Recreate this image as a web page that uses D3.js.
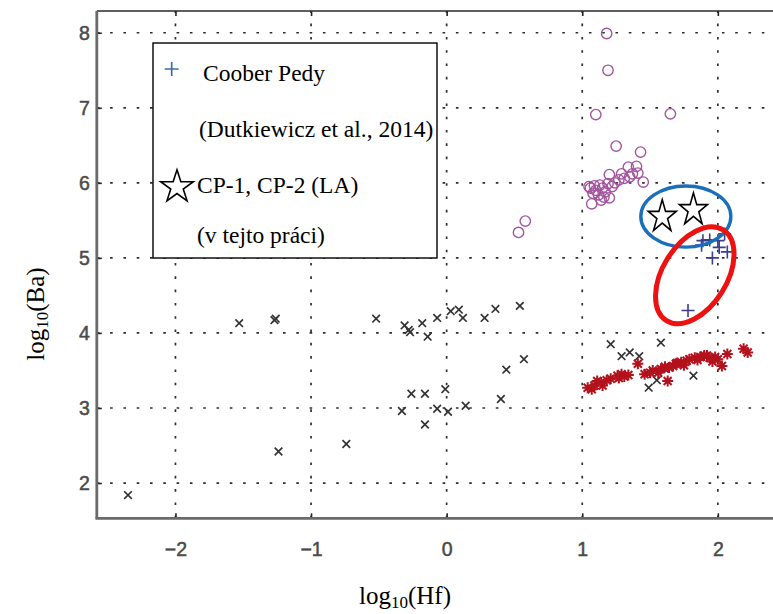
<!DOCTYPE html>
<html>
<head>
<meta charset="utf-8">
<script src="https://cdn.jsdelivr.net/npm/d3@7"></script>
<style>
  body { margin: 0; background: #fff; }
  svg { display: block; }
</style>
</head>
<body>
<svg id="chart" width="773" height="614"></svg>
<script>
// ---- data: log10(Hf) vs log10(Ba) ----
// other deposits (black x)
const otherHf = [-2.35, -1.53, -1.27, -1.26, -1.24, -0.74, -0.52, -0.31, -0.28, -0.27, -0.18, -0.14,
  -0.07, 0.03, 0.09, 0.12, 0.28, 0.36, 0.54, 0.57, 0.44, 0.40, 0.14, -0.01, 0.01, -0.07, -0.16,
  -0.26, -0.33, -0.16, 1.21, 1.58, 1.29, 1.35, 1.42, 1.48, 1.49, 1.55, 1.61, 1.82];
const otherBa = [1.84, 4.13, 4.17, 4.19, 2.42, 2.52, 4.19, 4.10, 4.04, 4.01, 4.13, 3.95,
  4.20, 4.29, 4.31, 4.20, 4.20, 4.32, 4.36, 3.65, 3.51, 3.12, 3.03, 3.25, 2.95, 2.99, 3.19,
  3.19, 2.96, 2.78, 3.85, 3.87, 3.69, 3.74, 3.69, 3.46, 3.27, 3.37, 3.52, 3.43];

// purple circles
const circHf = [1.18, 1.19, 1.10, 1.65, 1.25, 1.43, 1.34, 1.40, 1.37, 1.29, 1.20, 1.45, 1.24, 1.31,
  1.27, 1.13, 1.09, 1.06, 1.10, 1.15, 1.17, 1.22, 1.08, 1.12, 1.16, 1.20, 1.14, 1.07, 1.19, 1.05,
  1.35, 1.41, 0.58, 0.53];
const circBa = [7.99, 7.50, 6.91, 6.92, 6.49, 6.41, 6.21, 6.22, 6.12, 6.12, 6.11, 6.01, 6.00, 6.06,
  6.04, 5.97, 5.96, 5.93, 5.90, 5.93, 5.88, 5.95, 5.86, 5.84, 5.81, 5.80, 5.77, 5.72, 5.99, 5.95,
  6.08, 6.13, 5.49, 5.34];

// red asterisks
const astHf = [1.04, 1.07, 1.09, 1.11, 1.14, 1.15, 1.18, 1.21, 1.26, 1.27, 1.29, 1.31, 1.34, 1.41,
  1.46, 1.50, 1.52, 1.56, 1.58, 1.61, 1.63, 1.64, 1.67, 1.69, 1.70, 1.73, 1.75, 1.77, 1.79, 1.83,
  1.85, 1.87, 1.90, 1.92, 1.94, 1.96, 1.98, 2.00, 2.03, 2.07, 2.19, 2.22];
const astBa = [3.27, 3.25, 3.30, 3.36, 3.34, 3.30, 3.37, 3.39, 3.43, 3.40, 3.45, 3.42, 3.44, 3.59,
  3.45, 3.47, 3.50, 3.47, 3.52, 3.55, 3.36, 3.54, 3.56, 3.59, 3.60, 3.61, 3.57, 3.63, 3.65, 3.67,
  3.64, 3.68, 3.70, 3.70, 3.67, 3.62, 3.68, 3.65, 3.56, 3.72, 3.79, 3.74];

// Coober Pedy (Dutkiewicz et al., 2014)
const cpHf = [1.89, 1.94, 2.00, 2.05, 1.96, 2.07, 2.01, 1.88, 1.78];
const cpBa = [5.23, 5.24, 5.23, 5.32, 5.00, 5.08, 5.14, 5.17, 4.30];

// CP-1, CP-2 (LA)
const laHf = [1.59, 1.82];
const laBa = [5.55, 5.64];

const xTicks = [-2, -1, 0, 1, 2];
const yTicks = [2, 3, 4, 5, 6, 7, 8];

const legendLines = ["Coober Pedy", "(Dutkiewicz et al., 2014)", "CP-1, CP-2 (LA)", "(v tejto práci)"];

// ---- layout ----
const svg = d3.select("#chart");
const plot = { left: 96.8, right: 799.2, top: 11, bottom: 518.3 };

const x = d3.scaleLinear().domain([-2.58, 2.6]).range([plot.left, plot.right]);
const y = d3.scaleLinear().domain([1.53, 8.29]).range([plot.bottom, plot.top]);

svg.append("defs").append("clipPath").attr("id", "plotClip")
  .append("rect")
  .attr("x", plot.left).attr("y", plot.top)
  .attr("width", plot.right - plot.left).attr("height", plot.bottom - plot.top);

// dotted grid
const grid = svg.append("g").attr("stroke", "#2e2e2e").attr("stroke-width", 1.7)
  .attr("stroke-dasharray", "2.6,10.7").attr("fill", "none");
grid.selectAll("line.gx").data(xTicks).join("line").attr("class", "gx")
  .attr("x1", d => x(d)).attr("x2", d => x(d))
  .attr("y1", plot.bottom).attr("y2", plot.top);
grid.selectAll("line.gy").data(yTicks).join("line").attr("class", "gy")
  .attr("x1", plot.left).attr("x2", plot.right)
  .attr("y1", d => y(d)).attr("y2", d => y(d));

// axes
const tickFont = "'Liberation Sans', Arial, Helvetica, sans-serif";
const fmt = d3.format("d");

const gx = svg.append("g").attr("transform", `translate(0,${plot.bottom})`)
  .call(d3.axisBottom(x).tickValues(xTicks).tickFormat(fmt).tickSizeInner(-5).tickSizeOuter(0).tickPadding(24));
const gxTop = svg.append("g").attr("transform", `translate(0,${plot.top})`)
  .call(d3.axisTop(x).tickValues(xTicks).tickFormat("").tickSizeInner(-5).tickSizeOuter(0));
const gy = svg.append("g").attr("transform", `translate(${plot.left},0)`)
  .call(d3.axisLeft(y).tickValues(yTicks).tickFormat(fmt).tickSizeInner(-5).tickSizeOuter(0).tickPadding(7));

[gx, gxTop, gy].forEach(g => {
  g.select(".domain").remove();
  g.selectAll(".tick line").attr("stroke", "#222").attr("stroke-width", 1.6);
  g.selectAll(".tick text").attr("fill", "#4a4a4a").attr("font-size", 19.5)
    .attr("stroke", "#4a4a4a").attr("stroke-width", 0.5)
    .attr("font-family", tickFont);
});

// markers
const marks = svg.append("g").attr("clip-path", "url(#plotClip)");

marks.append("g").selectAll("path").data(d3.range(otherHf.length)).join("path")
  .attr("transform", i => `translate(${x(otherHf[i])},${y(otherBa[i])})`)
  .attr("d", "M-3.8,-3.8L3.8,3.8M-3.8,3.8L3.8,-3.8")
  .attr("stroke", "#333").attr("stroke-width", 1.7).attr("fill", "none");

marks.append("g").selectAll("circle").data(d3.range(circHf.length)).join("circle")
  .attr("cx", i => x(circHf[i])).attr("cy", i => y(circBa[i])).attr("r", 5.2)
  .attr("fill", "none").attr("stroke", "#a3559f").attr("stroke-width", 1.4);

marks.append("g").selectAll("path").data(d3.range(astHf.length)).join("path")
  .attr("transform", i => `translate(${x(astHf[i])},${y(astBa[i])})`)
  .attr("d", "M-5.5,0H5.5M0,-5.5V5.5M-4,-4L4,4M-4,4L4,-4")
  .attr("stroke", "#b3121c").attr("stroke-width", 2).attr("fill", "none");

marks.append("g").selectAll("path").data(d3.range(cpHf.length)).join("path")
  .attr("transform", i => `translate(${x(cpHf[i])},${y(cpBa[i])})`)
  .attr("d", "M-6.5,0H6.5M0,-6.5V6.5")
  .attr("stroke", "#3d3d8a").attr("stroke-width", 1.6).attr("fill", "none");

// highlighted groups
const blueRing = { hf: 1.764, ba: 5.551, rHf: 0.332, rBa: 0.408 };
svg.append("ellipse")
  .attr("cx", x(blueRing.hf)).attr("cy", y(blueRing.ba))
  .attr("rx", x(blueRing.hf + blueRing.rHf) - x(blueRing.hf))
  .attr("ry", y(blueRing.ba) - y(blueRing.ba + blueRing.rBa))
  .attr("fill", "none").attr("stroke", "#1a6fbd").attr("stroke-width", 3.4);

const redRing = { hf: 1.83, ba: 4.769, minor: 32, major: 53.5, tilt: 32 };
svg.append("ellipse")
  .attr("transform", `translate(${x(redRing.hf)},${y(redRing.ba)}) rotate(${redRing.tilt})`)
  .attr("rx", redRing.minor).attr("ry", redRing.major)
  .attr("fill", "none").attr("stroke", "#ee1111").attr("stroke-width", 5);

const starPath = d3.symbol(d3.symbolStar, 245)();
svg.append("g").selectAll("path").data(d3.range(laHf.length)).join("path")
  .attr("transform", i => `translate(${x(laHf[i])},${y(laBa[i])}) scale(1,1.15)`)
  .attr("d", starPath)
  .attr("fill", "#fff").attr("stroke", "#000").attr("stroke-width", 1.6)
  .attr("vector-effect", "non-scaling-stroke");

// frame
const frame = svg.append("g").attr("fill", "none");
frame.append("line").attr("x1", plot.left).attr("x2", plot.right)
  .attr("y1", plot.top).attr("y2", plot.top).attr("stroke", "#2a2a2a").attr("stroke-width", 1.6);
frame.append("line").attr("x1", plot.left).attr("x2", plot.left)
  .attr("y1", plot.top).attr("y2", plot.bottom).attr("stroke", "#6a6a6a").attr("stroke-width", 2.8);
frame.append("line").attr("x1", plot.left - 1.4).attr("x2", plot.right)
  .attr("y1", plot.bottom).attr("y2", plot.bottom).attr("stroke", "#6a6a6a").attr("stroke-width", 2.8);

// axis titles
const serif = "'Liberation Serif', 'Times New Roman', Times, serif";
const xt = svg.append("text").attr("x", 405).attr("y", 604).attr("text-anchor", "middle")
  .attr("font-family", serif).attr("font-size", 25).attr("fill", "#000");
xt.append("tspan").text("log");
xt.append("tspan").attr("font-size", 17).attr("dy", 4).text("10");
xt.append("tspan").attr("dy", -4).text("(Hf)");

const yt = svg.append("text").attr("transform", "translate(44,314) rotate(-90)")
  .attr("text-anchor", "middle")
  .attr("font-family", serif).attr("font-size", 25).attr("fill", "#000");
yt.append("tspan").text("log");
yt.append("tspan").attr("font-size", 17).attr("dy", 4).text("10");
yt.append("tspan").attr("dy", -4).text("(Ba)");

// legend
const lg = svg.append("g");
lg.append("rect").attr("x", 153).attr("y", 43).attr("width", 284).attr("height", 215)
  .attr("fill", "#fff").attr("stroke", "#000").attr("stroke-width", 1.4);
lg.append("path").attr("transform", "translate(171.7,69)").attr("d", "M-7,0H7M0,-7V7")
  .attr("stroke", "#3e6ea8").attr("stroke-width", 1.7).attr("fill", "none");
lg.append("path").attr("transform", "translate(177,187)")
  .attr("d", d3.symbol(d3.symbolStar, 330)())
  .attr("fill", "#fff").attr("stroke", "#000").attr("stroke-width", 1.6);
const legendPos = [[203, 81], [199, 137], [197, 193], [197, 243]];
lg.selectAll("text").data(legendLines).join("text")
  .attr("x", (d, i) => legendPos[i][0]).attr("y", (d, i) => legendPos[i][1])
  .attr("font-family", serif).attr("font-size", 23.5).attr("fill", "#000")
  .text(d => d);
</script>
</body>
</html>
